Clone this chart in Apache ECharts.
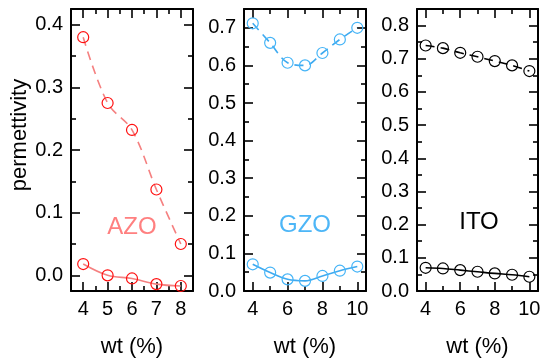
<!DOCTYPE html>
<html><head><meta charset="utf-8">
<script src="https://cdn.jsdelivr.net/npm/echarts@6/dist/echarts.min.js"></script>
<style>html,body{margin:0;padding:0;background:#fff}#c{width:540px;height:360px}</style>
</head><body><div id="c"></div>
<script>
// ---- data ----
const azoX = [4, 5, 6, 7, 8];
const azoUpper = [0.380, 0.275, 0.232, 0.137, 0.050];
const azoLower = [0.018, 0.000, -0.005, -0.014, -0.017];
const gzoX = [4, 5, 6, 7, 8, 9, 10];
const gzoUpper = [0.712, 0.660, 0.607, 0.600, 0.633, 0.669, 0.700];
const gzoLower = [0.071, 0.049, 0.031, 0.027, 0.040, 0.054, 0.065];
const itoX = [4, 5, 6, 7, 8, 9, 10];
const itoUpper = [0.740, 0.732, 0.718, 0.706, 0.693, 0.680, 0.663];
const itoLower = [0.070, 0.068, 0.063, 0.058, 0.053, 0.049, 0.043];
// tick labels
const azoXTicks = [4, 5, 6, 7, 8];
const azoXMinor = [4.5, 5.5, 6.5, 7.5];
const gzoXTicks = [4, 6, 8, 10];
const gzoXMinor = [5, 7, 9];
const itoXTicks = [4, 6, 8, 10];
const itoXMinor = [5, 7, 9];
const azoYTicks = [0.0, 0.1, 0.2, 0.3, 0.4];
const azoYMinor = [0.05, 0.15, 0.25, 0.35];
const gzoYTicks = [0.0, 0.1, 0.2, 0.3, 0.4, 0.5, 0.6, 0.7];
const gzoYMinor = [0.05, 0.15, 0.25, 0.35, 0.45, 0.55, 0.65];
const itoYTicks = [0.0, 0.1, 0.2, 0.3, 0.4, 0.5, 0.6, 0.7, 0.8];
const itoYMinor = [0.05, 0.15, 0.25, 0.35, 0.45, 0.55, 0.65, 0.75];
const panelNames = ['AZO', 'GZO', 'ITO'];
const xName = 'wt (%)';
const yName = 'permettivity';

const FONT = "'Liberation Sans', Arial, Helvetica, sans-serif";
const panels = [
  {name: panelNames[0], x: azoX, up: azoUpper, low: azoLower, xr: [3.5, 8.5], yr: [-0.025, 0.425],
   xt: azoXTicks, xm: azoXMinor, yt: azoYTicks, ym: azoYMinor,
   line: '#f58080', mark: '#ff1010', text: '#ff8080', left: 71, width: 122, lx: 132, ly: 227},
  {name: panelNames[1], x: gzoX, up: gzoUpper, low: gzoLower, xr: [3.5, 10.5], yr: [0, 0.75],
   xt: gzoXTicks, xm: gzoXMinor, yt: gzoYTicks, ym: gzoYMinor,
   line: '#3eaaf0', mark: '#45b4f7', text: '#4db6f7', left: 244, width: 122, lx: 305, ly: 225},
  {name: panelNames[2], x: itoX, up: itoUpper, low: itoLower, xr: [3.5, 10.5], yr: [0, 0.85],
   xt: itoXTicks, xm: itoXMinor, yt: itoYTicks, ym: itoYMinor,
   line: '#000000', mark: '#000000', text: '#000000', left: 417, width: 121, lx: 479, ly: 222}
];

const grid = [], xAxis = [], yAxis = [], series = [], graphic = [];
const TOP = 9, BOTTOM = 69;
panels.forEach((p, i) => {
  grid.push({left: p.left, width: p.width, top: TOP, bottom: BOTTOM, containLabel: false, outerBoundsMode: 'none'});
  const base = (pos, vals, len, showLine, labels) => ({
    type: 'value', gridIndex: i, position: pos,
    axisLine: {show: showLine, onZero: false, lineStyle: {color: '#000', width: 2}},
    axisTick: {show: true, inside: true, length: len, customValues: vals, lineStyle: {color: '#000', width: 1.6}},
    axisLabel: {show: labels, customValues: vals, fontFamily: FONT, fontSize: 20, color: '#000'},
    splitLine: {show: false}, minorTick: {show: false}, minorSplitLine: {show: false}
  });
  // x axes
  const xIdx = xAxis.length;
  [['bottom', p.xt, 9, true, true], ['bottom', p.xm, 5, false, false],
   ['top', p.xt, 9, true, false], ['top', p.xm, 5, false, false]].forEach((a, k) => {
    const ax = base(a[0], a[1], a[2], a[3], a[4]);
    ax.min = p.xr[0]; ax.max = p.xr[1];
    ax.axisLabel.margin = 8;
    ax.axisLabel.formatter = v => String(v);
    if (k === 0) {
      ax.name = xName; ax.nameLocation = 'middle'; ax.nameGap = 45;
      ax.nameTextStyle = {fontFamily: FONT, fontSize: 22, color: '#000'};
    }
    xAxis.push(ax);
  });
  const yIdx = yAxis.length;
  [['left', p.yt, 9, true, true], ['left', p.ym, 5, false, false],
   ['right', p.yt, 9, true, false], ['right', p.ym, 5, false, false]].forEach((a, k) => {
    const ax = base(a[0], a[1], a[2], a[3], a[4]);
    ax.min = p.yr[0]; ax.max = p.yr[1];
    ax.axisLabel.margin = 8;
    ax.axisLabel.formatter = v => v.toFixed(1);
    if (k === 0 && i === 0) {
      ax.name = yName; ax.nameLocation = 'middle'; ax.nameGap = 37;
      ax.nameTextStyle = {fontFamily: FONT, fontSize: 22, color: '#000', padding: [0, 0, 0, 30]};
    }
    yAxis.push(ax);
  });
  const mk = (vals, dashed) => ({
    type: 'line', xAxisIndex: xIdx, yAxisIndex: yIdx,
    data: p.x.map((x, j) => [x, vals[j]]),
    smooth: 0.35, clip: false, symbol: 'circle', symbolSize: 11,
    lineStyle: {color: p.line, width: 1.6, type: dashed ? [9, 6] : 'solid'},
    itemStyle: {color: 'rgba(255,255,255,0)', borderColor: p.mark, borderWidth: 1.2},
    emphasis: {disabled: true}, z: 3
  });
  series.push(mk(p.up, true), mk(p.low, false));
  graphic.push({type: 'text', x: p.lx, y: p.ly, z: 10,
    style: {text: p.name, fontFamily: FONT, fontSize: 24, fill: p.text, align: 'center', verticalAlign: 'middle'}});
});

const chart = echarts.init(document.getElementById('c'), null, {renderer: 'canvas'});
chart.setOption({animation: false, backgroundColor: '#fff', grid, xAxis, yAxis, series, graphic});
</script></body></html>
